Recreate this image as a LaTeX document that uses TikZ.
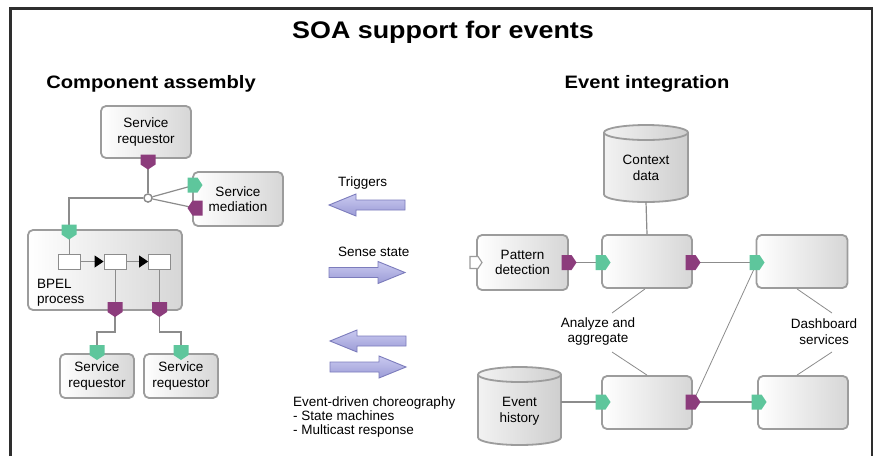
\documentclass[tikz,border=0pt]{standalone}
\usepackage{fontspec}
\setmainfont{Liberation Sans}
\newfontfamily\widefont[FakeStretch=1.12]{Liberation Sans}
\usetikzlibrary{arrows.meta,calc}
\definecolor{boxgray}{HTML}{9C9C9C}
\definecolor{linegray}{HTML}{8C8C8C}
\definecolor{pgreen}{HTML}{5EC69C}
\definecolor{ppurple}{HTML}{8C3C7C}
\definecolor{arrfill1}{HTML}{C9C9F0}
\definecolor{arrfill2}{HTML}{9C9CD6}
\definecolor{arrdraw}{HTML}{7C7CBC}
\definecolor{framecol}{HTML}{2E2E2E}
\newcommand\bodyfont{\fontsize{13.5}{15.5}\selectfont}
\newcommand\mycyl[5]{%
  \shadedraw[cylstyle] (#1-#4,#2+#5) -- (#1-#4,#3-#5)
    arc[start angle=180,end angle=360,x radius=#4pt,y radius=#5pt]
    -- (#1+#4,#2+#5)
    arc[start angle=0,end angle=180,x radius=#4pt,y radius=#5pt] -- cycle;
  \draw[cylstyle] (#1-#4,#2+#5)
    arc[start angle=180,end angle=360,x radius=#4pt,y radius=#5pt];}
\newcommand\arrowleft[2]{%
  \shadedraw[blockarrow] (#1,#2) -- ++(27,-11) -- ++(0,6) -- ++(49,0)
    -- ++(0,10) -- ++(-49,0) -- ++(0,6) -- cycle;}
\newcommand\arrowright[2]{%
  \shadedraw[blockarrow] (#1,#2-5) -- ++(49,0) -- ++(0,-6) -- ++(27,11)
    -- ++(-27,11) -- ++(0,-6) -- ++(-49,0) -- cycle;}
\begin{document}
\begin{tikzpicture}[x=1pt,y=-1pt,
  box/.style={draw=boxgray, line width=1.8pt, rounded corners=5pt,
    left color=white, right color=gray!32, align=center, inner sep=0pt,
    font=\bodyfont},
  cylstyle/.style={draw=boxgray, line width=1.8pt, left color=gray!10,
    right color=gray!38},
  conn/.style={draw=linegray, line width=1.2pt},
  thin/.style={draw=linegray, line width=0.8pt},
  minirect/.style={draw=linegray, line width=0.8pt, fill=white,
    minimum width=22pt, minimum height=15pt, inner sep=0pt},
  blockarrow/.style={draw=arrdraw, line width=0.9pt, top color=arrfill1,
    bottom color=arrfill2},
  flowtip/.style={-{Triangle[length=9pt,width=12pt,color=black,fill=black]}},
  lbl/.style={font=\bodyfont, align=center, inner sep=0pt},
  port/.pic={\path[pic actions] (-7.5,-7.5) -- (2.5,-7.5) -- (7.5,0)
    -- (2.5,7.5) -- (-7.5,7.5) -- cycle;},
]
\useasboundingbox (0,0) rectangle (877,456);
\fill[white] (0,0) rectangle (877,456);
% frame
\draw[framecol, line width=2.6pt] (10.5,456) -- (10.5,8.5) -- (872,8.5) -- (872,456);

% titles
\node[font=\widefont\fontsize{24}{28}\selectfont\bfseries, inner sep=0pt] (title) at (443,32) {SOA support for events};
\node[font=\widefont\fontsize{18}{22}\selectfont\bfseries, inner sep=0pt] (compasm) at (151,84) {Component assembly};
\node[font=\widefont\fontsize{18}{22}\selectfont\bfseries, inner sep=0pt] (evint) at (647,84) {Event integration};

% ---------- left: component assembly ----------
\node[box, minimum width=90pt, minimum height=52pt] (sr1) at (146,132) {Service\\requestor};
\node[box, minimum width=90pt, minimum height=54pt] (med) at (238,199) {Service\\mediation};
\node[box, minimum width=154pt, minimum height=80pt] (bpel) at (105,270) {};
\node[lbl, anchor=west, align=left] (bpeltxt) at (37,292.5) {BPEL\\process};
\node[box, minimum width=74pt, minimum height=44pt] (sr2) at (97,376) {Service\\requestor};
\node[box, minimum width=74pt, minimum height=44pt] (sr3) at (181,376) {Service\\requestor};

\coordinate (psr1) at (148,162);
\coordinate (pmedg) at (195,185);
\coordinate (pmedp) at (195,208);
\coordinate (pbin) at (69,232);
\coordinate (pb1) at (115,309.5);
\coordinate (pb2) at (159.5,309.5);
\coordinate (psr2) at (97,352.5);
\coordinate (psr3) at (181,352.5);
\coordinate (k1) at (115,332);
\coordinate (k2) at (159.5,332);

\node[minirect] (r1) at (69,261.5) {};
\node[minirect] (r2) at (115,261.5) {};
\node[minirect] (r3) at (159.5,261.5) {};

\node[circle, draw=linegray, line width=1.3pt, fill=white, minimum size=8pt, inner sep=0pt] (hub) at (148,198) {};

\draw[conn] (psr1) -- (hub);
\draw[conn] (hub) -- (pmedg);
\draw[conn] (hub) -- (pmedp);
\draw[conn] (hub.west) -| (pbin);
\draw[thin] (pbin) -- (r1.north);
\draw[thin, flowtip] (r1.east) -- (r2.west);
\draw[thin, flowtip] (r2.east) -- (r3.west);
\draw[thin] (r2.south) -- (pb1);
\draw[thin] (r3.south) -- (pb2);
\draw[conn] (pb1) -- (k1) -| (psr2);
\draw[conn] (pb2) -- (k2) -| (psr3);
\node[circle, draw=linegray, line width=1.3pt, fill=white, minimum size=8pt, inner sep=0pt] at (hub) {};

\pic[fill=ppurple, rotate=-90] at (psr1) {port};
\pic[fill=pgreen] at (pmedg) {port};
\pic[fill=ppurple, rotate=180] at (pmedp) {port};
\pic[fill=pgreen, rotate=-90] at (pbin) {port};
\pic[fill=ppurple, rotate=-90] at (pb1) {port};
\pic[fill=ppurple, rotate=-90] at (pb2) {port};
\pic[fill=pgreen, rotate=-90] at (psr2) {port};
\pic[fill=pgreen, rotate=-90] at (psr3) {port};

% ---------- middle ----------
\node[lbl, anchor=west] (trig) at (338,183) {Triggers};
\arrowleft{329}{205}
\node[lbl, anchor=west] (sense) at (338,252) {Sense state};
\arrowright{329}{272.5}
\arrowleft{330}{341}
\arrowright{330}{367}
\node[font=\fontsize{13.5}{14}\selectfont, align=left, anchor=west, inner sep=0pt] (chor) at (293,417)
  {Event-driven choreography\\- State machines\\- Multicast response};

% ---------- right: event integration ----------
\mycyl{646}{125}{202}{42}{7.5}
\node[lbl] (ctx) at (646,168) {Context\\data};
\mycyl{519.5}{367}{445}{41.5}{7.5}
\node[lbl] (hist) at (519.5,411) {Event\\history};

\node[box, minimum width=91pt, minimum height=55pt] (pd) at (522.5,262.5) {Pattern\\detection};
\node[box, minimum width=90pt, minimum height=53pt] (a1) at (647,261.5) {};
\node[box, minimum width=91pt, minimum height=53pt] (d1) at (802,261.5) {};
\node[box, minimum width=90pt, minimum height=53pt] (a2) at (647,402.5) {};
\node[box, minimum width=90pt, minimum height=53pt] (d2) at (803,402.5) {};

\node[lbl] (anlbl) at (598,331.5) {Analyze and\\aggregate};
\node[lbl] (dblbl) at (824,331.5) {Dashboard\\services};

\coordinate (ctxb) at (646,202);
\coordinate (pdin) at (476,262.5);
\coordinate (pdout) at (569,262.5);
\coordinate (a1in) at (603,262.5);
\coordinate (a1out) at (693,262.5);
\coordinate (d1in) at (757,262.5);
\coordinate (a2in) at (603,402);
\coordinate (a2out) at (693,402);
\coordinate (d2in) at (759,402);
\coordinate (histr) at (561,402);
\coordinate (ant1) at (612,313);
\coordinate (anb1) at (612,352);
\coordinate (dbt1) at (832,313);
\coordinate (dbb1) at (832,352);

\draw[conn] (ctxb) -- (a1.north);
\draw[conn] (pdout) -- (a1in);
\draw[conn] (a1out) -- (d1in);
\draw[conn] (histr) -- (a2in);
\draw[conn] (a2out) -- (d2in);
\draw[thin] (a2out) -- (d1in);
\draw[thin] ($(a1.south)+(-2,0)$) -- (ant1);
\draw[thin] (anb1) -- (a2.north);
\draw[thin] ($(d1.south)+(-5,0)$) -- (dbt1);
\draw[thin] (dbb1) -- ($(d2.north)+(-6,0)$);

\pic[fill=white, draw=boxgray, line width=1.2pt, scale=0.8] at (pdin) {port};
\pic[fill=ppurple] at (pdout) {port};
\pic[fill=pgreen] at (a1in) {port};
\pic[fill=ppurple] at (a1out) {port};
\pic[fill=pgreen] at (d1in) {port};
\pic[fill=pgreen] at (a2in) {port};
\pic[fill=ppurple] at (a2out) {port};
\pic[fill=pgreen] at (d2in) {port};
\end{tikzpicture}
\end{document}
